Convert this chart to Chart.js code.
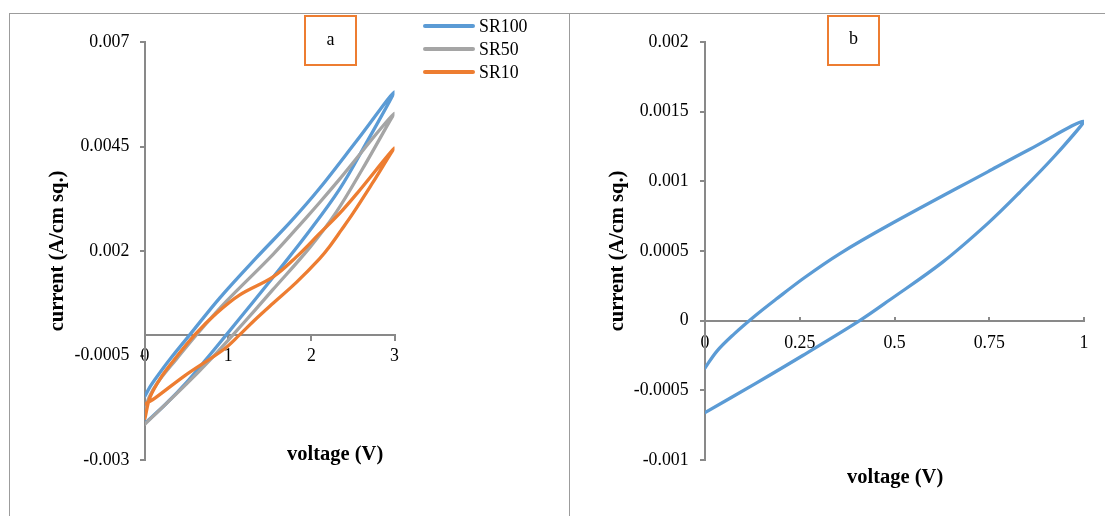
<!DOCTYPE html>
<html><head><meta charset="utf-8">
<script src="https://cdn.jsdelivr.net/npm/chart.js@4.4.1/dist/chart.umd.min.js"></script>
<style>
html,body{margin:0;padding:0;background:#fff;}
#wrap{position:relative;width:1105px;height:516px;overflow:hidden;background:#fff;font-family:'Liberation Serif','Times New Roman',serif;}
canvas{position:absolute;top:0;}
.frame{position:absolute;background:#9c9c9c;}
.xt{position:absolute;white-space:nowrap;color:#000;font-weight:bold;font-size:20.5px;line-height:24px;}
.tag{position:absolute;box-sizing:border-box;border:2px solid #ED7D31;font-size:18px;color:#000;text-align:center;}
.lg-line{position:absolute;height:4px;border-radius:2px;}
.lg-text{position:absolute;font-size:17.8px;line-height:20px;color:#000;white-space:nowrap;}
</style></head>
<body>
<div id="wrap">
 <div class="frame" style="left:9px;top:13px;width:1096px;height:1px"></div>
 <div class="frame" style="left:9px;top:13px;width:1px;height:503px"></div>
 <div class="frame" style="left:569px;top:13px;width:1px;height:503px"></div>
 <canvas id="cA" width="568" height="516" style="left:0"></canvas>
 <canvas id="cB" width="537" height="516" style="left:568px"></canvas>
 <div class="tag" style="left:304px;top:15px;width:53px;height:51px;line-height:44px;">a</div>
 <div class="tag" style="left:827px;top:15px;width:53px;height:51px;line-height:42px;">b</div>
 <div class="xt" style="left:287px;top:441px;">voltage (V)</div>
 <div class="xt" style="left:847px;top:464px;">voltage (V)</div>
 <div id="legendA"></div>
</div>
<script>
// ---- Data ----
// Panel a: CV loops, voltage (V) vs current (A/cm sq.)
const sr100V = [0, 0.25, 0.5, 0.74, 0.98, 1.3, 1.6, 1.94, 2.34, 2.66, 3.0, 2.55, 2.1, 1.76, 1.34, 0.9, 0.54, 0.3, 0.15, 0.06, 0];
const sr100I = [-0.00212, -0.00166, -0.00114, -0.00058, 0, 0.00078, 0.00152, 0.00238, 0.00348, 0.00458, 0.00581, 0.00465, 0.0035, 0.00272, 0.00184, 0.00088, 0, -0.00059, -0.00099, -0.00125, -0.00147];

const sr50V = [0, 0.5, 0.78, 1.06, 1.32, 1.54, 1.98, 2.3, 2.62, 3.0, 2.34, 2.1, 1.94, 1.54, 0.98, 0.62, 0.38, 0.15, 0.05, 0];
const sr50I = [-0.00214, -0.00118, -0.00061, 0, 0.00058, 0.00108, 0.00208, 0.00293, 0.00398, 0.00529, 0.00372, 0.00316, 0.0028, 0.00192, 0.0008, 0, -0.00058, -0.00115, -0.0015, -0.0018];

const sr10V = [0, 0.06, 0.2, 0.36, 0.6, 0.86, 1.14, 1.54, 1.82, 2.1, 2.34, 2.55, 3.0, 2.74, 2.5, 2.36, 2.22, 2.1, 1.82, 1.54, 1.32, 1.14, 0.95, 0.48, 0.12, 0.02, 0];
const sr10I = [-0.0020, -0.0015, -0.001, -0.00058, 0, 0.00051, 0.00095, 0.00138, 0.00186, 0.00242, 0.0029, 0.00338, 0.00446, 0.00364, 0.0029, 0.0025, 0.00211, 0.00182, 0.00125, 0.00075, 0.00035, 0, -0.00035, -0.00098, -0.00152, -0.00164, -0.00166];

// Panel b: single CV loop
const loopBV = [0, 0.134, 0.258, 0.408, 0.488, 0.627, 0.747, 0.83, 0.922, 1.0, 0.857, 0.747, 0.488, 0.355, 0.263, 0.188, 0.13, 0.075, 0.031, 0];
const loopBI = [-0.00066, -0.00045, -0.00025, 0, 0.00015, 0.00042, 0.0007, 0.00092, 0.00118, 0.00143, 0.00123, 0.00107, 0.00069, 0.00048, 0.00031, 0.000155, 0.00003, -0.0001, -0.00022, -0.00034];

const seriesNamesA = ['SR100', 'SR50', 'SR10'];
const seriesColors = ['#5B9BD5', '#A5A5A5', '#ED7D31'];

// Tick values / labels
const xTicksA = [0, 1, 2, 3];
const xTickLabelsA = ['0', '1', '2', '3'];
const yTicksA = [0.007, 0.0045, 0.002, -0.0005, -0.003];
const yTickLabelsA = ['0.007', '0.0045', '0.002', '-0.0005', '-0.003'];
const xTicksB = [0, 0.25, 0.5, 0.75, 1];
const xTickLabelsB = ['0', '0.25', '0.5', '0.75', '1'];
const yTicksB = [0.002, 0.0015, 0.001, 0.0005, 0, -0.0005, -0.001];
const yTickLabelsB = ['0.002', '0.0015', '0.001', '0.0005', '0', '-0.0005', '-0.001'];

const yTitle = 'current (A/cm sq.)';

// ---- helpers ----
const FAMILY = "'Liberation Serif', 'Times New Roman', serif";
const tickFont = {family: FAMILY, size: 17.8};
const axisColor = '#898989';
function pts(vs, is) { return vs.map((v, i) => ({x: v, y: is[i]})); }
function fixedTicks(vals) { return (scale) => { scale.ticks = vals.map(v => ({value: v})); }; }
function labelFrom(vals, labels) {
  return (value) => { const i = vals.findIndex(v => Math.abs(v - value) < 1e-12); return i >= 0 ? labels[i] : ''; };
}
function lineDs(label, data, color, order) {
  return {label, data, borderColor: color, backgroundColor: color, borderWidth: 3.3, showLine: true,
          pointRadius: 0, pointHoverRadius: 0, tension: 0.35, fill: false, order,
          borderCapStyle: 'round', borderJoinStyle: 'round'};
}
function makeScales(o) {
  return {
    x: {type: 'linear', min: o.xMin, max: o.xMax, position: {y: 0},
        afterBuildTicks: fixedTicks(o.xTicks),
        afterFit: s => { s.height = 0; },
        ticks: {callback: labelFrom(o.xTicks, o.xLabels), font: tickFont, color: '#000', padding: o.xPad,
                maxRotation: 0, autoSkip: false},
        grid: {drawOnChartArea: false, drawTicks: true, tickLength: o.xTickLen, color: axisColor, lineWidth: 2},
        border: {color: axisColor, width: 2},
        title: {display: false}},
    y: {type: 'linear', min: o.yMin, max: o.yMax, position: 'left',
        afterBuildTicks: fixedTicks(o.yTicks),
        afterFit: s => { s.width = o.yWidth; },
        ticks: {callback: labelFrom(o.yTicks, o.yLabels), font: tickFont, color: '#000', padding: o.yPad, autoSkip: false},
        grid: {drawOnChartArea: false, drawTicks: true, tickLength: 5, color: axisColor, lineWidth: 2},
        border: {color: axisColor, width: 2},
        title: {display: true, text: yTitle, color: '#000',
                font: {family: FAMILY, size: 20.5, weight: 'bold'},
                padding: {top: o.titlePad, bottom: 0}}}
  };
}
const commonPlugins = {legend: {display: false}, title: {display: false}, tooltip: {enabled: false}};

// ---- Chart a ----
const dataA = [pts(sr100V, sr100I), pts(sr50V, sr50I), pts(sr10V, sr10I)];
const chartA = new Chart(document.getElementById('cA'), {
  type: 'scatter',
  data: {datasets: dataA.map((d, i) => lineDs(seriesNamesA[i], d, seriesColors[i], 2 - i))},
  options: {
    responsive: false, animation: false, events: [],
    layout: {padding: {left: 0, top: 42, right: 173.5, bottom: 56}},
    scales: makeScales({xMin: 0, xMax: 3, xTicks: xTicksA, xLabels: xTickLabelsA, xPad: 6.4, xTickLen: 5,
                        yMin: -0.003, yMax: 0.007, yTicks: yTicksA, yLabels: yTickLabelsA, yPad: 10.7,
                        yWidth: 145, titlePad: 45.7}),
    plugins: commonPlugins
  }
});

// ---- Chart b ----
const chartB = new Chart(document.getElementById('cB'), {
  type: 'scatter',
  data: {datasets: [lineDs('b', pts(loopBV, loopBI), seriesColors[0], 0)]},
  options: {
    responsive: false, animation: false, events: [],
    layout: {padding: {left: 0, top: 42, right: 21, bottom: 56}},
    scales: makeScales({xMin: 0, xMax: 1, xTicks: xTicksB, xLabels: xTickLabelsB, xPad: 16.5, xTickLen: -5,
                        yMin: -0.001, yMax: 0.002, yTicks: yTicksB, yLabels: yTickLabelsB, yPad: 11.4,
                        yWidth: 137, titlePad: 37.7}),
    plugins: commonPlugins
  }
});

// ---- Legend for chart a (built from its datasets) ----
const legendRowsY = [26, 49, 72];
const lg = document.getElementById('legendA');
chartA.data.datasets.forEach((ds, i) => {
  const line = document.createElement('div');
  line.className = 'lg-line';
  line.style.cssText = `left:423px;top:${legendRowsY[i] - 2}px;width:52px;background:${ds.borderColor};`;
  const txt = document.createElement('div');
  txt.className = 'lg-text';
  txt.style.cssText = `left:479px;top:${legendRowsY[i] - 10}px;`;
  txt.textContent = ds.label;
  lg.appendChild(line); lg.appendChild(txt);
});
</script>
</body></html>
